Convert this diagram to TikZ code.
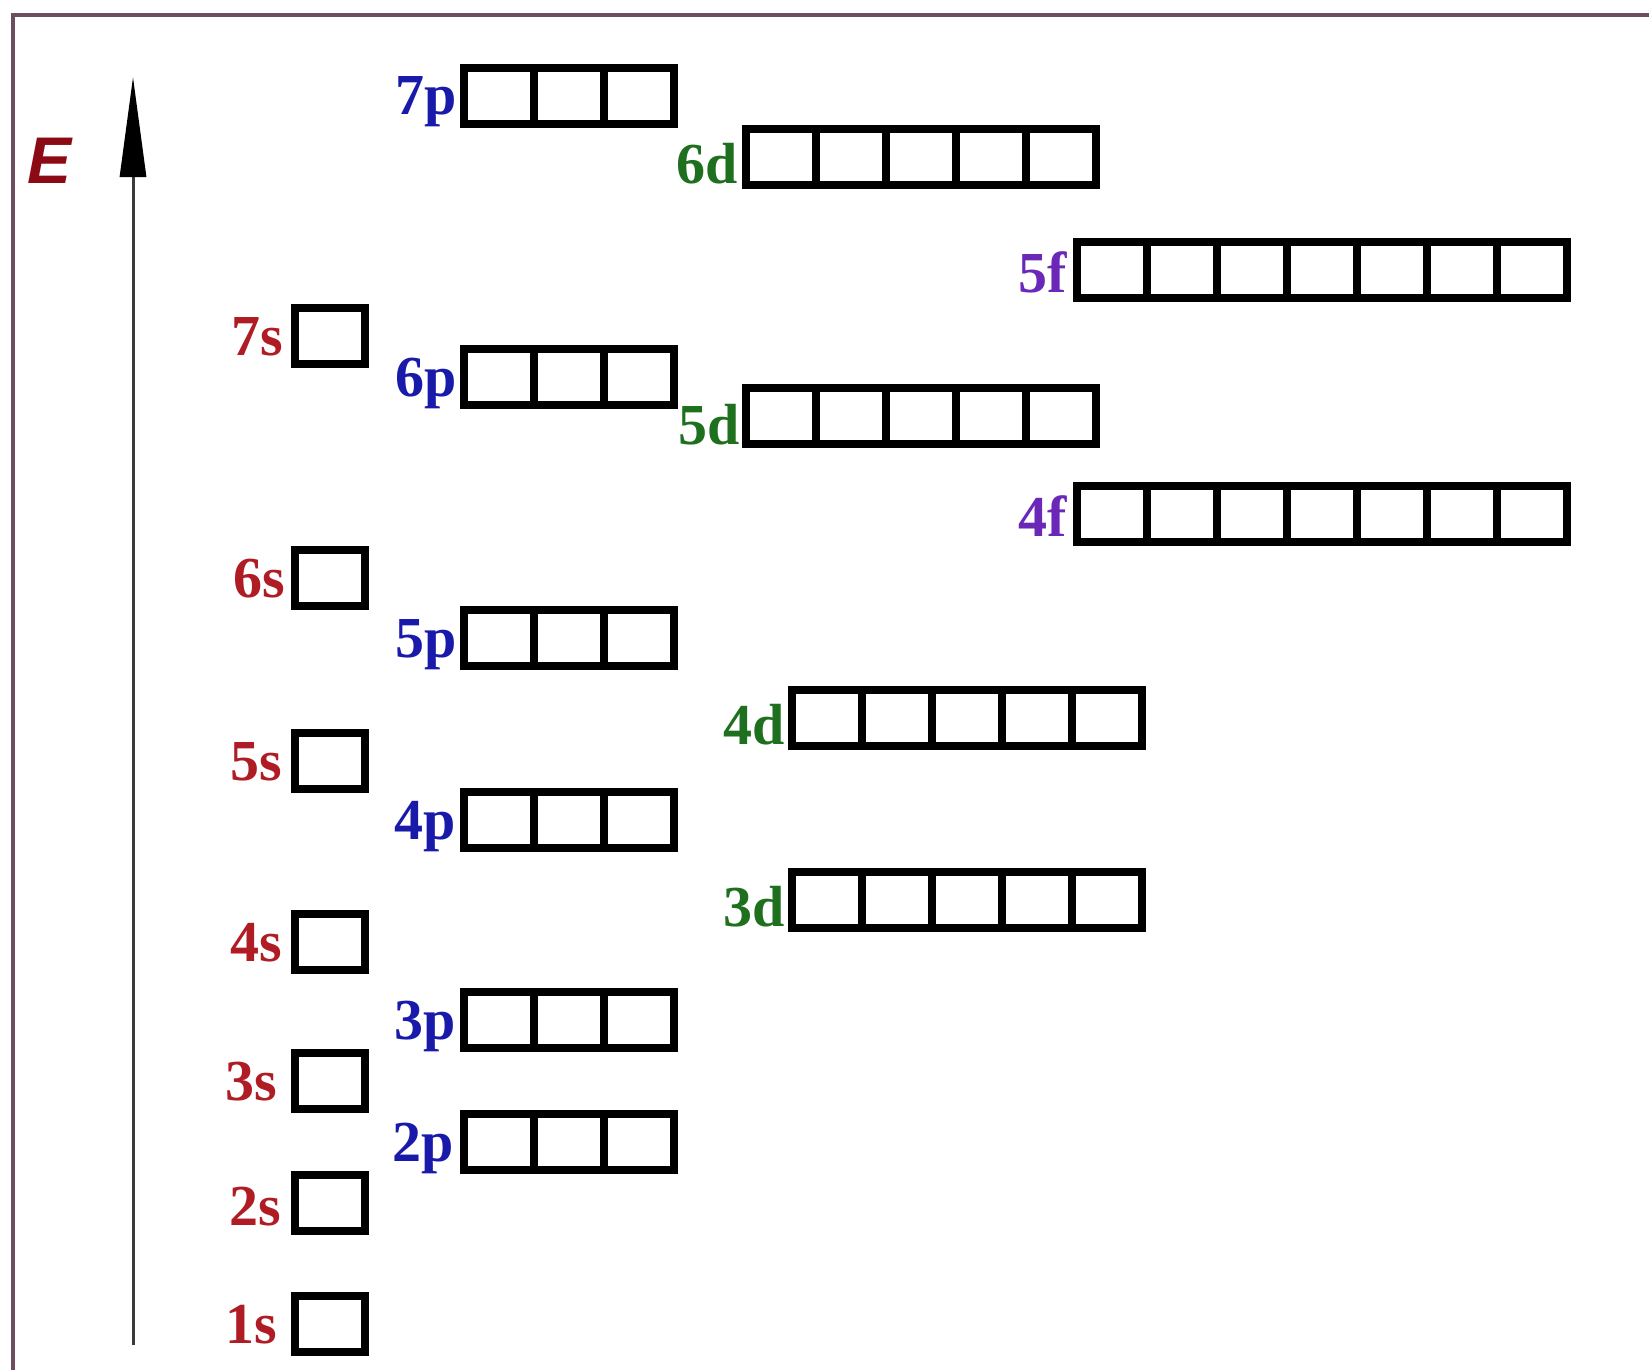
\documentclass[tikz,border=0pt]{standalone}
\usepackage{fontspec}
\setmainfont{Liberation Serif}
\newfontfamily\esans{Liberation Sans}
\usetikzlibrary{arrows.meta}
\definecolor{sred}{HTML}{B01C24}
\definecolor{pblue}{HTML}{1A1AAA}
\definecolor{dgreen}{HTML}{1E701E}
\definecolor{fpurple}{HTML}{6B28B8}
\definecolor{ered}{HTML}{8C0A14}
\definecolor{framecol}{HTML}{6E4E5E}
\definecolor{axiscol}{HTML}{3A3A3A}
\tikzset{
  obox/.style={draw=black, line width=7.5pt, inner sep=0pt, outer sep=0pt, minimum height=56pt},
  cellline/.style={draw=black, line width=7.5pt},
  lbl/.style={inner sep=0pt, font=\fontsize{58}{60}\selectfont\bfseries},
  framel/.style={draw=framecol, line width=4.5pt},
  axis/.style={draw=axiscol, line width=3pt, -{Triangle[length=100pt,width=26pt,color=black,fill=black]}},
}
\newcommand{\orb}[8]{%
  \node[obox, minimum width=#4*70pt, anchor=north west] (#1) at (#2,#3) {};
  \ifnum#4>1
    \foreach \i in {2,...,#4}{\draw[cellline] ([xshift=(\i-1)*70pt]#1.north west) -- ([xshift=(\i-1)*70pt]#1.south west);}
  \fi
  \node[lbl, text=#6, anchor=base east] (#1-l) at ([xshift=#7pt, yshift=#8pt]#1.south west) {#5};
}
\begin{document}
\begin{tikzpicture}[x=1pt, y=-1pt]
\useasboundingbox[fill=white] (0,0) rectangle (1649,1370);
% frame
\draw[framel] (1649,15) -- (13,15) -- (13,1370);
% energy axis
\coordinate (abot) at (133,1345);
\coordinate (atop) at (133,77);
\draw[axis] (abot) -- (atop);
\node[font=\esans\bfseries\itshape\fontsize{66}{70}\selectfont, text=ered, inner sep=0pt] (E) at (50,161) {E};
% s orbitals
\orb{s7}{295}{308}{1}{7s}{sred}{-12}{9}
\orb{s6}{295}{550}{1}{6s}{sred}{-10}{9}
\orb{s5}{295}{733}{1}{5s}{sred}{-13}{9}
\orb{s4}{295}{914}{1}{4s}{sred}{-13}{9}
\orb{s3}{295}{1053}{1}{3s}{sred}{-18}{9}
\orb{s2}{295}{1175}{1}{2s}{sred}{-14}{6}
\orb{s1}{295}{1296}{1}{1s}{sred}{-18}{9}
% p orbitals
\orb{p7}{464}{68}{3}{7p}{pblue}{-7}{9}
\orb{p6}{464}{349}{3}{6p}{pblue}{-7}{9}
\orb{p5}{464}{610}{3}{5p}{pblue}{-7}{9}
\orb{p4}{464}{792}{3}{4p}{pblue}{-8}{9}
\orb{p3}{464}{992}{3}{3p}{pblue}{-8}{9}
\orb{p2}{464}{1114}{3}{2p}{pblue}{-10}{9}
% d orbitals
\orb{d6}{746}{129}{5}{6d}{dgreen}{-8}{2}
\orb{d5}{746}{388}{5}{5d}{dgreen}{-6}{0}
\orb{d4}{792}{690}{5}{4d}{dgreen}{-7}{2}
\orb{d3}{792}{872}{5}{3d}{dgreen}{-7}{2}
% f orbitals
\orb{f5}{1077}{242}{7}{5f}{fpurple}{-10}{6}
\orb{f4}{1077}{486}{7}{4f}{fpurple}{-10}{6}
\end{tikzpicture}
\end{document}
